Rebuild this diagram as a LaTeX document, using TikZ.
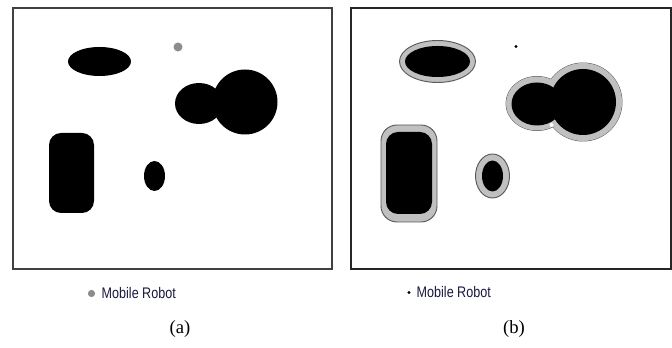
\documentclass[tikz,border=0pt]{standalone}
\usepackage{fontspec}
\setmainfont{Liberation Serif}
\newfontfamily\legendfont{Liberation Sans}
\definecolor{ringgray}{HTML}{C0C0C0}
\definecolor{legendtext}{HTML}{1A1A40}
\begin{document}
\begin{tikzpicture}[x=0.75pt,y=-0.75pt,
  frame/.style={draw=black!75,line width=0.8pt},
  obst/.style={fill=black},
  ring/.style={fill=ringgray,draw=black!65,line width=0.7pt},
  ringfill/.style={fill=ringgray},
  legend/.style={font=\legendfont\fontsize{11.5}{13}\selectfont,text=legendtext,xscale=0.82,anchor=west,inner sep=0pt},
  caption/.style={font=\fontsize{14}{16}\selectfont,inner sep=0pt}]
\useasboundingbox (0,0) rectangle (672,348);
\fill[white] (0,0) rectangle (672,348);
% ---------- panel (a)
\draw[frame] (13,8) rectangle (332,269);
\fill[obst] (99.5,61.5) ellipse [x radius=31.5,y radius=14.5];
\fill[black!45] (178,47) circle [radius=4.5];
\fill[obst] (199,103.5) ellipse [x radius=24,y radius=20.5];
\fill[obst] (245,102) circle [radius=32.5];
\fill[obst,rounded corners=9] (49,133) rectangle (94,213);
\fill[obst] (154.5,176) ellipse [x radius=10.5,y radius=15];
% ---------- panel (b)
\draw[frame,draw=black!85] (351,8) rectangle (671,269);
% enlarged (gray) regions
\draw[ring] (437.5,61.5) ellipse [x radius=38,y radius=21];
\draw[ring] (537,103.5) ellipse [x radius=31,y radius=27];
\draw[ring] (583,102) circle [radius=39];
\fill[ringfill] (537,103.5) ellipse [x radius=31,y radius=27];
\fill[ringfill] (583,102) circle [radius=39];
\draw[ring,rounded corners=12] (381,125) rectangle (437,222);
\draw[ring] (492.5,176) ellipse [x radius=17,y radius=22];
% obstacles
\fill[obst] (437.5,61.5) ellipse [x radius=32.5,y radius=15.5];
\fill[obst] (537,104) ellipse [x radius=25.5,y radius=21.5];
\fill[obst] (583,102) circle [radius=33];
\fill[white] (551.5,125) circle [radius=2];
\fill[obst,rounded corners=9] (386,132) rectangle (432,214);
\fill[obst] (492.5,176) ellipse [x radius=10.5,y radius=15.5];
\fill[black] (516,46.5) circle [radius=1.6];
% ---------- legends
\fill[black!45] (91.5,293.5) circle [radius=3.6];
\node[legend] (legA) at (101.5,293.5) {Mobile Robot};
\fill[black] (409,292.5) circle [radius=1.6];
\node[legend] (legB) at (416.5,292.5) {Mobile Robot};
% ---------- captions
\node[caption] (capA) at (180,329) {(a)};
\node[caption] (capB) at (514,329) {(b)};
\end{tikzpicture}
\end{document}
